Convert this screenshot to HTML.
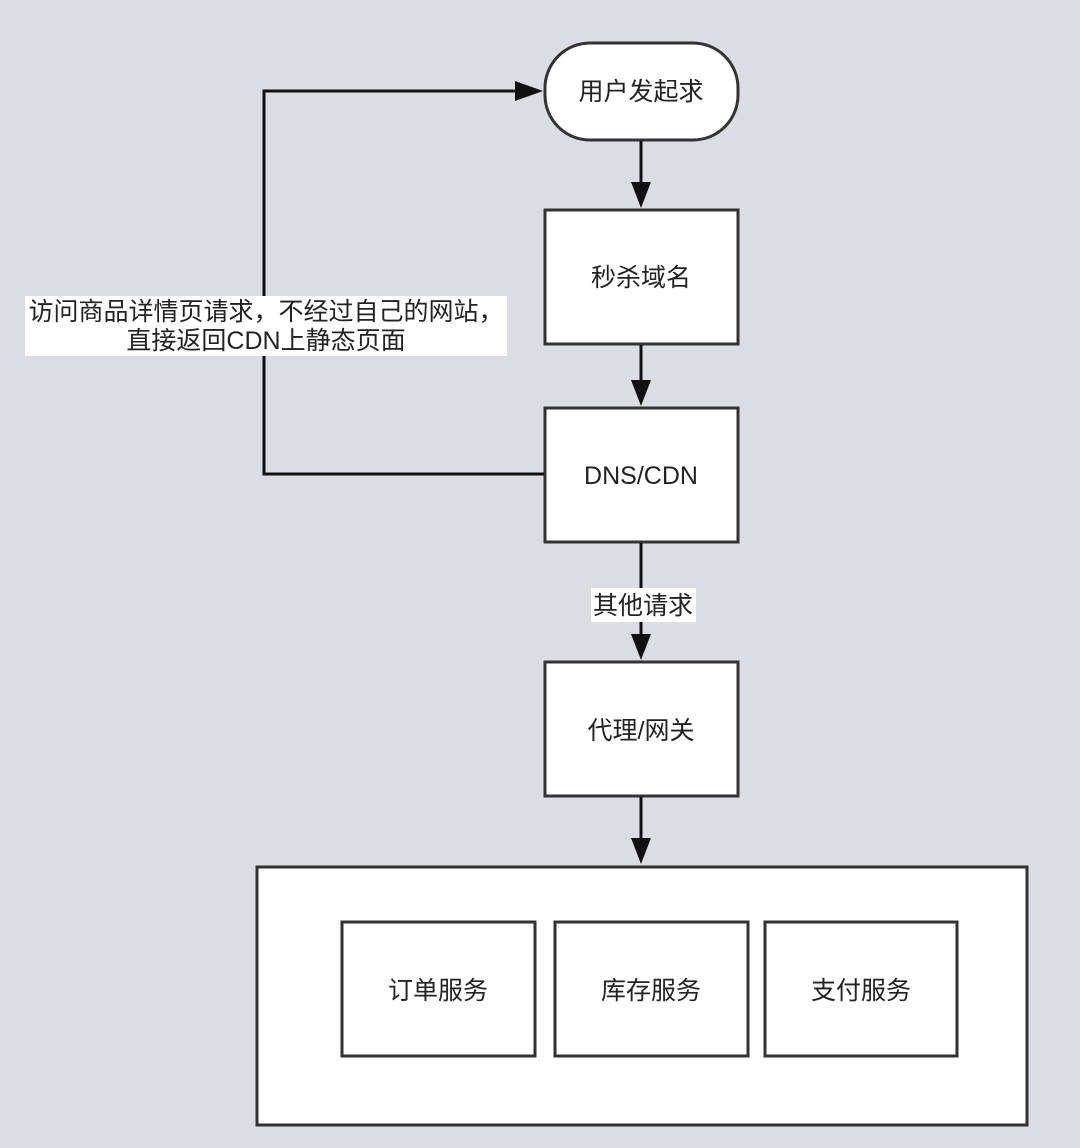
<!DOCTYPE html>
<html><head><meta charset="utf-8"><style>
html,body{margin:0;padding:0;background:#dcdde2;}
svg{display:block;}
text{font-family:"Liberation Sans","Noto Sans CJK SC",sans-serif;fill:#222;}
</style></head><body>
<svg width="1080" height="1148" viewBox="0 0 1080 1148" xmlns="http://www.w3.org/2000/svg">
<rect width="1080" height="1148" fill="#dcdde2"/>
<g stroke="#111" stroke-width="3" fill="none">
<rect x="545" y="43" width="193" height="97" rx="45" fill="#fff" stroke="#333"/>
<rect x="545" y="210" width="193" height="134" fill="#fff" stroke="#333"/>
<rect x="545" y="408" width="193" height="134" fill="#fff" stroke="#333"/>
<rect x="545" y="662" width="193" height="134" fill="#fff" stroke="#333"/>
<rect x="257" y="867" width="770" height="258" fill="#fff" stroke="#333"/>
<rect x="342" y="922" width="193" height="134" fill="#fff" stroke="#333"/>
<rect x="555" y="922" width="193" height="134" fill="#fff" stroke="#333"/>
<rect x="765" y="922" width="192" height="134" fill="#fff" stroke="#333"/>
<line x1="641" y1="141" x2="641" y2="188"/>
<line x1="641" y1="345" x2="641" y2="386"/>
<line x1="641" y1="543" x2="641" y2="640"/>
<line x1="641" y1="797" x2="641" y2="845"/>
<polyline points="544,474 264,474 264,91 520,91"/>
</g>
<g fill="#111">
<polygon points="631,182 651,182 641,208"/>
<polygon points="631,380 651,380 641,406"/>
<polygon points="631,634 651,634 641,660"/>
<polygon points="631,838 651,838 641,864"/>
<polygon points="515,81 515,101 543,91"/>
</g>
<rect x="25" y="296" width="482" height="60" fill="#fff"/>
<rect x="591" y="588" width="105" height="34" fill="#fff"/>
<g font-size="25" text-anchor="middle">
<text x="641" y="100">用户发起求</text>
<text x="641" y="286">秒杀域名</text>
<text x="641" y="484">DNS/CDN</text>
<text x="641" y="739">代理/网关</text>
<text x="438" y="999">订单服务</text>
<text x="651" y="999">库存服务</text>
<text x="861" y="999">支付服务</text>
<text x="643" y="614">其他请求</text>
<text x="266" y="320">访问商品详情页请求，不经过自己的网站，</text>
<text x="266" y="349">直接返回CDN上静态页面</text>
</g>
</svg>
</body></html>
